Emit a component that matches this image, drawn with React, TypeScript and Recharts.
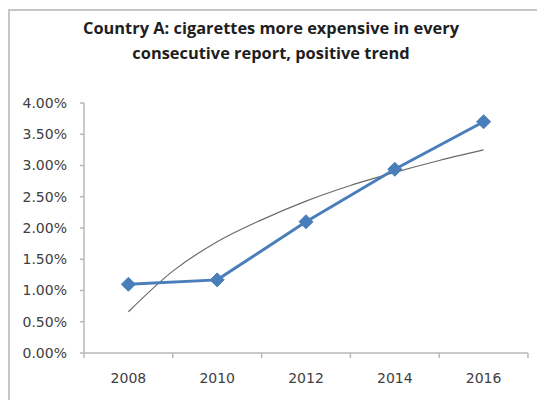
import { Line, LineChart, XAxis, YAxis } from "recharts";

// Country A price change by report year, with Excel-style log trendline.
const years = [2008, 2010, 2012, 2014, 2016];
const priceChange = [0.011, 0.0117, 0.021, 0.0294, 0.037];

const trendYears = [2008, 2009, 2010, 2011, 2012, 2013, 2014, 2015, 2016];
const trendValues = [0.0066, 0.0131, 0.0178, 0.0213, 0.0243, 0.0268, 0.0289, 0.0308, 0.0325];

const yTicks = [0, 0.005, 0.01, 0.015, 0.02, 0.025, 0.03, 0.035, 0.04];
const xTicks = [2007, 2008, 2009, 2010, 2011, 2012, 2013, 2014, 2015, 2016, 2017];

const series = years.map((year, i) => ({ year, value: priceChange[i] }));
const trend = trendYears.map((year, i) => ({ year, trend: trendValues[i] }));

const AXIS = "#b8b8b8";
const TEXT = "#404040";
const BLUE = "#4a7ebb";
const TICK_FONT = "'DejaVu Sans', sans-serif";

// Odd years are category boundaries (tick marks), even years carry the labels.
function YearTick(props: any) {
  const { x, y, payload } = props;
  const v = payload.value as number;
  if (v % 2 === 1) {
    return <line x1={x} x2={x} y1={y} y2={y + 5} stroke={AXIS} strokeWidth={1.5} />;
  }
  return (
    <text
      x={x}
      y={y + 30}
      textAnchor="middle"
      fill={TEXT}
      fontSize={14}
      fontFamily={TICK_FONT}
    >
      {v}
    </text>
  );
}

function Diamond(props: any) {
  const { cx, cy } = props;
  if (cx == null || cy == null) return null;
  const r = 7;
  return (
    <polygon
      points={`${cx},${cy - r} ${cx + r},${cy} ${cx},${cy + r} ${cx - r},${cy}`}
      fill={BLUE}
      stroke={BLUE}
      strokeWidth={1}
    />
  );
}

export default function App() {
  return (
    <div style={{ position: "relative", width: 537, height: 392, overflow: "hidden" }}>
      <div
        style={{
          position: "absolute",
          left: 0,
          top: 1,
          width: 620,
          height: 460,
          border: "2px solid #c6c6c6",
          boxSizing: "border-box",
        }}
      />
      <div
        style={{
          position: "absolute",
          left: 0,
          top: 7,
          width: 526,
          textAlign: "center",
          fontFamily: "'Open Sans', sans-serif",
          fontWeight: 700,
          fontSize: 16.4,
          lineHeight: "25px",
          color: "#1e1e1e",
        }}
      >
        Country A: cigarettes more expensive in every
        <br />
        consecutive report, positive trend
      </div>
      <LineChart
        width={537}
        height={392}
        margin={{ top: 95, right: 17, bottom: 17, left: 0 }}
        style={{ position: "absolute", left: 0, top: 0 }}
      >
        <XAxis
          dataKey="year"
          type="number"
          domain={[2007, 2017]}
          ticks={xTicks}
          interval={0}
          allowDuplicatedCategory={false}
          height={30}
          tickSize={0}
          tickMargin={0}
          tickLine={false}
          tick={<YearTick />}
          axisLine={{ stroke: AXIS, strokeWidth: 1.5 }}
        />
        <YAxis
          type="number"
          domain={[0, 0.04]}
          ticks={yTicks}
          interval={0}
          width={76}
          tickSize={4}
          tickMargin={13}
          tickFormatter={(v: number) => `${(v * 100).toFixed(2)}%`}
          tick={{ fontSize: 14, fill: TEXT, fontFamily: TICK_FONT }}
          tickLine={{ stroke: AXIS, strokeWidth: 1.5 }}
          axisLine={{ stroke: AXIS, strokeWidth: 1.5 }}
        />
        <Line
          data={trend}
          dataKey="trend"
          type="monotone"
          stroke="#6a6a6a"
          strokeWidth={1.2}
          dot={false}
          activeDot={false}
          isAnimationActive={false}
        />
        <Line
          data={series}
          dataKey="value"
          type="linear"
          stroke={BLUE}
          strokeWidth={3}
          dot={<Diamond />}
          activeDot={false}
          isAnimationActive={false}
        />
      </LineChart>
    </div>
  );
}
